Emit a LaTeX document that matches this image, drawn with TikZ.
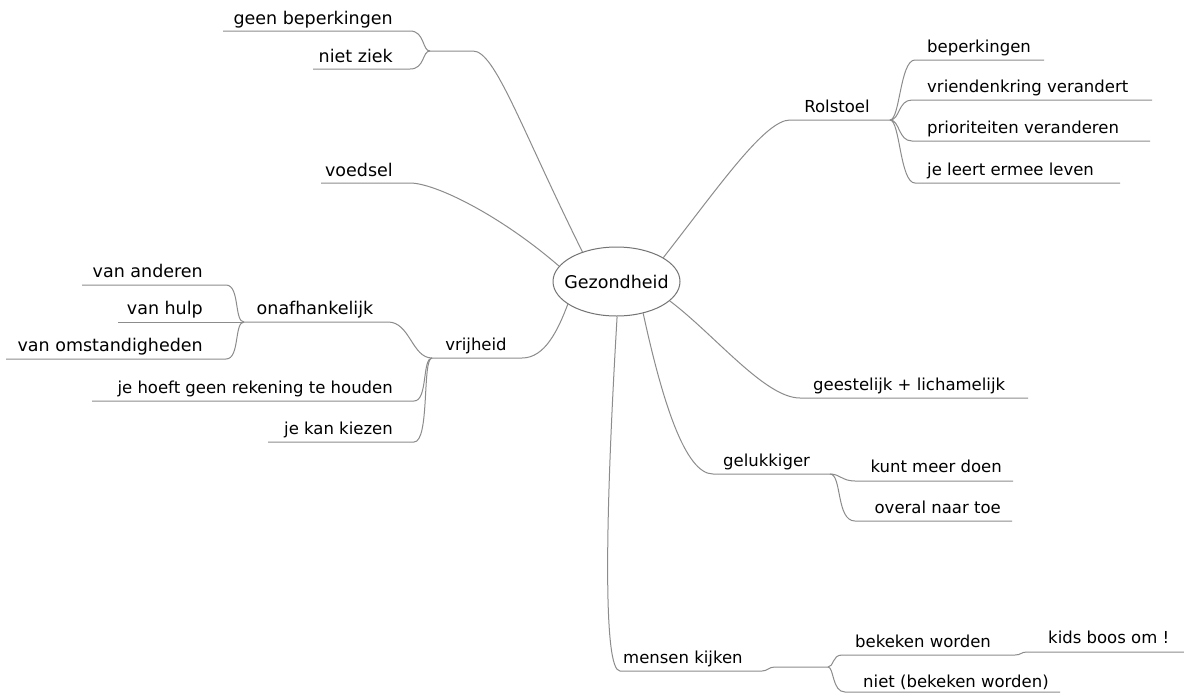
\documentclass[tikz,border=0pt]{standalone}
\usepackage{fontspec}
\setmainfont{DejaVu Sans}
\usetikzlibrary{shapes.geometric}
\begin{document}
\begin{tikzpicture}[x=1pt,y=-1pt,
  ln/.style={draw=black!45, line width=1pt},
  clbl/.style={inner sep=0pt, font=\fontsize{16.5}{18}\selectfont},
  tlbl/.style={inner sep=0pt, font=\fontsize{17.5}{19}\selectfont}]
\useasboundingbox (0,0) rectangle (1184,694);
\fill[white] (0,0) rectangle (1184,694);
% central topic
\node[ellipse, draw=black!55, line width=1pt, minimum width=127pt, minimum height=69pt, inner sep=0pt] (C) at (616.5,281.5) {};
\node[tlbl] (Ct) at (C.center) {Gezondheid};
% line coordinates
\coordinate (geenA) at (223,31);  \coordinate (geenB) at (410,31);
\coordinate (nzA) at (313,69);    \coordinate (nzB) at (410,69);
\coordinate (fk1) at (430,51);    \coordinate (st1) at (473,51);
\coordinate (voA) at (321,183);   \coordinate (voB) at (410,183);
\coordinate (vaA) at (82,285);    \coordinate (vaB) at (226,285);
\coordinate (vhA) at (118,322);
\coordinate (vomA) at (6,359);    \coordinate (vomB) at (226,359);
\coordinate (onA) at (244,322);   \coordinate (onB) at (388,322);
\coordinate (vrF) at (432,358);   \coordinate (vrB) at (522,358);
\coordinate (jhA) at (92,401);    \coordinate (jhB) at (414,401);
\coordinate (jkA) at (268,442);   \coordinate (jkB) at (414,442);
\coordinate (roA) at (790,120);   \coordinate (roF) at (890,120);
\coordinate (beA) at (915,60);    \coordinate (beB) at (1044,60);
\coordinate (vkA) at (912,100);   \coordinate (vkB) at (1152,100);
\coordinate (prA) at (912,141);   \coordinate (prB) at (1150,141);
\coordinate (jlA) at (915,183);   \coordinate (jlB) at (1120,183);
\coordinate (geA) at (800,398);   \coordinate (geB) at (1028,398);
\coordinate (guA) at (713,474);   \coordinate (guF) at (830,474);
\coordinate (kmA) at (855,481);   \coordinate (kmB) at (1013,481);
\coordinate (ovA) at (855,521);   \coordinate (ovB) at (1012,521);
\coordinate (mkA) at (620,671);   \coordinate (mkB) at (762,671);
\coordinate (mkC) at (775,667);   \coordinate (mkF) at (828,667);
\coordinate (bwA) at (842,655);   \coordinate (bwB) at (1015,655);
\coordinate (kbA) at (1027,652);  \coordinate (kbB) at (1184,652);
\coordinate (niA) at (845,692);   \coordinate (niB) at (1060,692);
% connectors
\draw[ln] (geenA) -- (geenB) .. controls (425,31) and (422,51) .. (fk1);
\draw[ln] (nzA) -- (nzB) .. controls (425,69) and (422,51) .. (fk1) -- (st1) .. controls (495,51) and (520,126) .. (C.139);
\draw[ln] (voA) -- (voB) .. controls (435,183) and (500,215) .. (C.165);
\draw[ln] (vaA) -- (vaB) .. controls (240,285) and (234,322) .. (onA);
\draw[ln] (vhA) -- (onA);
\draw[ln] (vomA) -- (vomB) .. controls (240,359) and (234,322) .. (onA);
\draw[ln] (onA) -- (onB) .. controls (410,322) and (412,358) .. (vrF);
\draw[ln] (jhA) -- (jhB) .. controls (428,401) and (422,358) .. (vrF);
\draw[ln] (jkA) -- (jkB) .. controls (430,442) and (422,358) .. (vrF);
\draw[ln] (vrF) -- (vrB) .. controls (545,358) and (558,330) .. (C.-155);
\draw[ln] (C.27) .. controls (720,185) and (765,120) .. (roA) -- (roF);
\draw[ln] (roF) .. controls (900,120) and (900,60) .. (beA) -- (beB);
\draw[ln] (roF) .. controls (900,120) and (898,100) .. (vkA) -- (vkB);
\draw[ln] (roF) .. controls (900,120) and (898,141) .. (prA) -- (prB);
\draw[ln] (roF) .. controls (900,120) and (900,183) .. (jlA) -- (jlB);
\draw[ln] (C.-20) .. controls (715,335) and (765,398) .. (geA) -- (geB);
\draw[ln] (C.-50) .. controls (662,400) and (685,474) .. (guA) -- (guF);
\draw[ln] (guF) .. controls (840,474) and (842,481) .. (kmA) -- (kmB);
\draw[ln] (guF) .. controls (842,474) and (836,521) .. (ovA) -- (ovB);
\draw[ln] (C.-89) .. controls (605,520) and (603,671) .. (mkA) -- (mkB) .. controls (768,671) and (768,667) .. (mkC) -- (mkF);
\draw[ln] (mkF) .. controls (834,667) and (832,655) .. (bwA) -- (bwB) .. controls (1021,655) and (1021,652) .. (kbA) -- (kbB);
\draw[ln] (mkF) .. controls (834,667) and (832,692) .. (niA) -- (niB);
% labels
\node[tlbl, anchor=base east] (t1) at (393,24) {geen beperkingen};
\node[tlbl, anchor=base east] (t2) at (393,62) {niet ziek};
\node[tlbl, anchor=base east] (t3) at (393,176) {voedsel};
\node[tlbl, anchor=base east] (t4) at (203,277) {van anderen};
\node[tlbl, anchor=base east] (t5) at (203,314) {van hulp};
\node[tlbl, anchor=base east] (t6) at (203,351) {van omstandigheden};
\node[tlbl, anchor=base] (t7) at (315,314) {onafhankelijk};
\node[clbl, anchor=base] (t8) at (476,350) {vrijheid};
\node[clbl, anchor=base east] (t9) at (393,393) {je hoeft geen rekening te houden};
\node[clbl, anchor=base east] (t10) at (393,434) {je kan kiezen};
\node[clbl, anchor=base] (t11) at (837,112) {Rolstoel};
\node[clbl, anchor=base west] (t12) at (927,52) {beperkingen};
\node[clbl, anchor=base west] (t13) at (927,92) {vriendenkring verandert};
\node[clbl, anchor=base west] (t14) at (927,133) {prioriteiten veranderen};
\node[clbl, anchor=base west] (t15) at (927,175) {je leert ermee leven};
\node[clbl, anchor=base west] (t16) at (813,390) {geestelijk + lichamelijk};
\node[clbl, anchor=base west] (t17) at (723,466) {gelukkiger};
\node[clbl, anchor=base east] (t18) at (1002,472) {kunt meer doen};
\node[clbl, anchor=base east] (t19) at (1001,513) {overal naar toe};
\node[clbl, anchor=base west] (t20) at (623,663) {mensen kijken};
\node[clbl, anchor=base west] (t21) at (855,647) {bekeken worden};
\node[clbl, anchor=base west] (t22) at (1048,643) {kids boos om !};
\node[clbl, anchor=base west] (t23) at (863,687) {niet (bekeken worden)};
\end{tikzpicture}
\end{document}
